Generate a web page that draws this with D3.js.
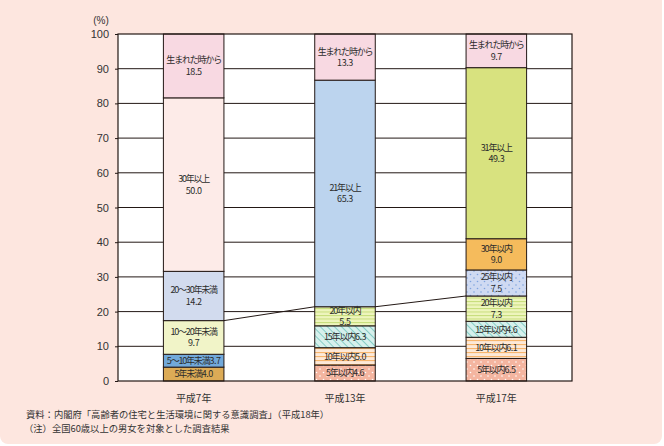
<!DOCTYPE html>
<html><head><meta charset="utf-8">
<script src="https://cdn.jsdelivr.net/npm/d3@7"></script>
<style>
html,body{margin:0;padding:0;background:#fff;}
svg{display:block;font-family:"Noto Sans CJK JP","Noto Sans",sans-serif;}
</style></head>
<body><svg id="c" width="664" height="446"></svg>
<script>
const categories = ["平成7年", "平成13年", "平成17年"];
const h7Labels = ["5年未満", "5～10年未満", "10～20年未満", "20～30年未満", "30年以上", "生まれた時から"];
const h7Values = [4.0, 3.7, 9.7, 14.2, 50.0, 18.5];
const h13Labels = ["5年以内", "10年以内", "15年以内", "20年以内", "21年以上", "生まれた時から"];
const h13Values = [4.6, 5.0, 6.3, 5.5, 65.3, 13.3];
const h17Labels = ["5年以内", "10年以内", "15年以内", "20年以内", "25年以内", "30年以内", "31年以上", "生まれた時から"];
const h17Values = [6.5, 6.1, 4.6, 7.3, 7.5, 9.0, 49.3, 9.7];
const yTicks = [0, 10, 20, 30, 40, 50, 60, 70, 80, 90, 100];
const connectIndex = [2, 3, 3];
const notes = ["資料：内閣府「高齢者の住宅と生活環境に関する意識調査」（平成18年）", "（注）全国60歳以上の男女を対象とした調査結果"];

const inlineLabels = {"5年未満":1,"5～10年未満":1,"15年以内":1,"10年以内":1,"5年以内":1};
const styles = {
  "生まれた時から":"#f8d9e2",
  "30年以上":"#fdebe8",
  "20～30年未満":"#d2dbee",
  "10～20年未満":"#f1f4c8",
  "5～10年未満":"#72a9da",
  "5年未満":"#dcab56",
  "21年以上":"#bcd4ee",
  "20年以内":"url(#pStripeG)",
  "15年以内":"url(#pDiag)",
  "10年以内":"url(#pStripeO)",
  "5年以内":"url(#pDotS)",
  "25年以内":"url(#pDotB)",
  "30年以内":"#f5bb5c",
  "31年以上":"#d8e27f"
};

const svg = d3.select("#c");
const defs = svg.append("defs");
let p = defs.append("pattern").attr("id","pStripeG").attr("patternUnits","userSpaceOnUse").attr("width",6).attr("height",3.5);
p.append("rect").attr("width",6).attr("height",3.5).attr("fill","#eef5bd");
p.append("rect").attr("y",0).attr("width",6).attr("height",1).attr("fill","#c6dc7a");
p = defs.append("pattern").attr("id","pStripeO").attr("patternUnits","userSpaceOnUse").attr("width",6).attr("height",4);
p.append("rect").attr("width",6).attr("height",4).attr("fill","#fde9d8");
p.append("rect").attr("y",0).attr("width",6).attr("height",1.1).attr("fill","#f7b56c");
p = defs.append("pattern").attr("id","pDiag").attr("patternUnits","userSpaceOnUse").attr("width",5).attr("height",5).attr("patternTransform","rotate(-45)");
p.append("rect").attr("width",5).attr("height",5).attr("fill","#d6f0ec");
p.append("rect").attr("x",0).attr("width",1).attr("height",5).attr("fill","#86cdc6");
p = defs.append("pattern").attr("id","pDotS").attr("patternUnits","userSpaceOnUse").attr("width",7).attr("height",7);
p.append("rect").attr("width",7).attr("height",7).attr("fill","#f4b5a0");
p.append("circle").attr("cx",1.5).attr("cy",1.5).attr("r",0.8).attr("fill","#fff");
p.append("circle").attr("cx",5).attr("cy",5).attr("r",0.8).attr("fill","#fff");
p = defs.append("pattern").attr("id","pDotB").attr("patternUnits","userSpaceOnUse").attr("width",7).attr("height",7);
p.append("rect").attr("width",7).attr("height",7).attr("fill","#cfdaf2");
p.append("circle").attr("cx",1.5).attr("cy",1.5).attr("r",0.8).attr("fill","#7ea3df");
p.append("circle").attr("cx",5).attr("cy",5).attr("r",0.8).attr("fill","#7ea3df");

svg.append("rect").attr("x",0).attr("y",-10).attr("width",662).attr("height",454).attr("rx",8).attr("fill","#fde6df");

const pLeft = 118, pRight = 572, pTop = 34, pBottom = 381;
const x = d3.scaleBand().domain(categories).range([pLeft, pRight]).paddingInner(0.6).paddingOuter(0.3);
const y = d3.scaleLinear().domain([0,100]).range([pBottom, pTop]);

svg.append("rect").attr("x",pLeft).attr("y",pTop).attr("width",pRight-pLeft).attr("height",pBottom-pTop).attr("fill","#fff");
svg.append("g").selectAll("line").data(yTicks.filter(d=>d>0&&d<100)).join("line")
  .attr("x1",pLeft).attr("x2",pRight).attr("y1",d=>y(d)).attr("y2",d=>y(d))
  .attr("stroke","#231815").attr("stroke-width",1);

const ax = svg.append("g").attr("transform",`translate(${pLeft},0)`)
  .call(d3.axisLeft(y).tickValues(yTicks).tickSize(3).tickPadding(6));
ax.select(".domain").remove();
ax.selectAll("line").attr("stroke","#231815");
ax.selectAll("text").attr("font-size",11).attr("fill","#333").attr("font-family","Arial,'Liberation Sans',sans-serif");
svg.append("text").attr("x",101).attr("y",24).attr("text-anchor","middle").attr("font-size",10).attr("fill","#333").attr("font-family","Arial,'Liberation Sans',sans-serif").text("(%)");

const groups = [
  {cat:categories[0], labels:h7Labels, values:h7Values},
  {cat:categories[1], labels:h13Labels, values:h13Values},
  {cat:categories[2], labels:h17Labels, values:h17Values}
];
const tops = [];
groups.forEach((g,gi)=>{
  let cum = 0;
  const segs = g.values.map((v,i)=>{const s={label:g.labels[i], v, y0:cum, y1:cum+v}; cum+=v; return s;});
  const gs = svg.append("g");
  gs.selectAll("rect").data(segs).join("rect")
    .attr("x",x(g.cat)).attr("width",x.bandwidth())
    .attr("y",d=>y(Math.min(d.y1,100))).attr("height",d=>y(d.y0)-y(Math.min(d.y1,100)))
    .attr("fill",d=>styles[d.label]).attr("stroke","#231815").attr("stroke-width",1);
  const cx = x(g.cat)+x.bandwidth()/2;
  segs.forEach(d=>{
    const my = (y(d.y0)+y(Math.min(d.y1,100)))/2;
    const t = gs.append("text").attr("text-anchor","middle").attr("font-size",9).attr("fill","#2b2b2b");
    if (inlineLabels[d.label]) {
      t.attr("x",cx).attr("y",my+3.3);
      t.append("tspan").attr("letter-spacing",-1.2).text(d.label);
      t.append("tspan").attr("letter-spacing",-0.5).text(d.v.toFixed(1));
    } else {
      t.append("tspan").attr("x",cx).attr("y",my-2.5).attr("letter-spacing",-1.2).text(d.label);
      t.append("tspan").attr("x",cx).attr("y",my+9).attr("letter-spacing",-0.4).text(d.v.toFixed(1));
    }
  });
  tops.push(segs[connectIndex[gi]].y1);
});
for (let i=0;i<groups.length-1;i++){
  svg.append("line")
    .attr("x1",x(categories[i])+x.bandwidth()).attr("y1",y(tops[i]))
    .attr("x2",x(categories[i+1])).attr("y2",y(tops[i+1]))
    .attr("stroke","#231815").attr("stroke-width",1);
}
svg.append("rect").attr("x",pLeft).attr("y",pTop).attr("width",pRight-pLeft).attr("height",pBottom-pTop).attr("fill","none").attr("stroke","#231815").attr("stroke-width",1.2);

svg.append("g").selectAll("text").data(categories).join("text")
  .attr("x",d=>x(d)+x.bandwidth()/2).attr("y",402).attr("text-anchor","middle")
  .attr("font-size",10).attr("fill","#333").text(d=>d);

svg.append("g").selectAll("text").data(notes).join("text")
  .attr("x",(d,i)=>i===0?26:24).attr("y",(d,i)=>418+i*13.6).attr("font-size",9.3).attr("fill","#333").text(d=>d);
</script></body></html>
